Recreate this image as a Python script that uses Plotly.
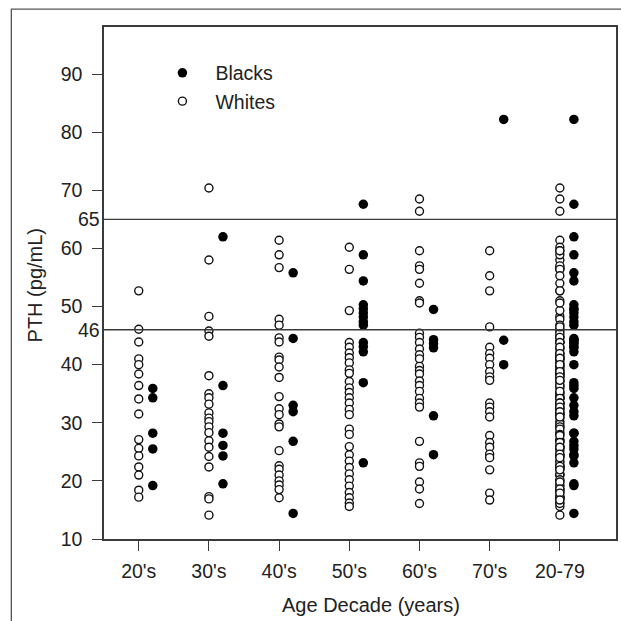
import plotly.graph_objects as go

# ---- data ----
categories = ["20's", "30's", "40's", "50's", "60's", "70's", "20-79"]

whites_20s = [52.7, 46.1, 43.9, 41.0, 40.0, 38.4, 36.4, 34.1, 31.5, 27.1, 25.6, 24.3, 22.4, 21.0, 18.4, 17.2]
whites_30s = [70.4, 58.0, 48.3, 45.8, 44.9, 38.1, 35.0, 34.3, 33.2, 31.7, 30.8, 30.2, 29.3, 28.3, 26.9, 25.8, 24.2, 22.4, 17.3, 16.9, 14.1]
whites_40s = [61.4, 58.9, 56.7, 47.8, 46.8, 44.6, 43.9, 41.3, 40.8, 39.6, 37.8, 34.5, 32.4, 31.4, 29.8, 29.3, 25.2, 22.6, 22.0, 21.0, 20.0, 19.3, 18.5, 17.1]
whites_50s = [60.2, 56.4, 49.3, 43.8, 43.0, 42.0, 41.2, 40.3, 39.1, 38.5, 37.1, 36.0, 35.2, 34.3, 33.4, 32.3, 31.4, 28.9, 28.0, 25.9, 24.5, 23.4, 22.3, 21.2, 20.2, 19.1, 18.0, 17.1, 16.2, 15.6]
whites_60s = [68.5, 66.4, 59.6, 57.0, 56.4, 54.0, 51.0, 50.6, 45.4, 44.7, 43.8, 42.7, 41.7, 41.0, 39.7, 39.0, 38.4, 37.2, 36.4, 35.4, 34.2, 33.4, 32.7, 26.8, 23.1, 22.5, 19.8, 18.6, 16.1]
whites_70s = [59.6, 55.3, 52.7, 46.5, 43.0, 41.9, 41.1, 40.0, 38.8, 37.9, 37.3, 33.4, 32.7, 31.9, 31.0, 27.8, 26.6, 25.8, 24.6, 24.0, 21.9, 17.9, 16.7]

blacks_20s = [35.9, 34.3, 28.2, 25.5, 19.2]
blacks_30s = [62.0, 36.4, 28.2, 26.1, 24.3, 19.5]
blacks_40s = [55.8, 44.5, 33.0, 31.9, 26.8, 14.4]
blacks_50s = [67.6, 58.9, 54.4, 50.3, 49.6, 48.9, 48.2, 47.4, 46.8, 43.8, 43.1, 42.2, 36.9, 23.1]
blacks_60s = [49.5, 44.3, 43.6, 42.9, 31.2, 24.5]
blacks_70s = [82.2, 44.2, 40.0]

reference_lines = [46, 65]
y_ticks = [10, 20, 30, 40, 50, 60, 70, 80, 90]

whites_by_decade = [whites_20s, whites_30s, whites_40s, whites_50s, whites_60s, whites_70s]
blacks_by_decade = [blacks_20s, blacks_30s, blacks_40s, blacks_50s, blacks_60s, blacks_70s]
# the "20-79" column pools all decades
whites_by_decade.append([v for g in whites_by_decade for v in g])
blacks_by_decade.append([v for g in blacks_by_decade for v in g])

BLACK_OFFSET = 0.2
wx, wy, bx, by = [], [], [], []
for i, (w, b) in enumerate(zip(whites_by_decade, blacks_by_decade)):
    wx += [i + 1] * len(w)
    wy += w
    bx += [i + 1 + BLACK_OFFSET] * len(b)
    by += b

FONT = "Liberation Sans, Arial, Helvetica, sans-serif"
TXT = "#222222"
LINE = "#3a3a3a"
TICK_SIZE = 19.5

fig = go.Figure()
fig.add_trace(go.Scatter(
    x=bx, y=by, mode="markers", name="Blacks",
    marker=dict(symbol="circle", size=9.5, color="black", line=dict(width=0)),
))
fig.add_trace(go.Scatter(
    x=wx, y=wy, mode="markers", name="Whites",
    marker=dict(symbol="circle", size=8, color="white", line=dict(width=1.4, color="#111111")),
))

for v in reference_lines:
    fig.add_shape(type="line", xref="paper", x0=0, x1=1, yref="y", y0=v, y1=v,
                  line=dict(color=LINE, width=1.4), layer="above")
    fig.add_annotation(xref="paper", x=0, yref="y", y=v, text=str(v), showarrow=False,
                       xanchor="right", yanchor="middle", xshift=-2,
                       font=dict(family=FONT, size=TICK_SIZE, color=TXT))

# outer frame of the original figure (left and top edges)
fig.add_shape(type="path", xref="paper", yref="paper",
              path="M -0.181 -0.3 L -0.181 1.035 L 1.2 1.035",
              line=dict(color="#555555", width=1.3))

fig.add_annotation(xref="paper", yref="paper", x=-0.134, y=0.496, text="PTH (pg/mL)",
                   textangle=-90, showarrow=False, xanchor="center", yanchor="middle",
                   font=dict(family=FONT, size=20, color=TXT))
fig.add_annotation(xref="paper", yref="paper", x=0.521, y=-0.129, text="Age Decade (years)",
                   showarrow=False, xanchor="center", yanchor="middle",
                   font=dict(family=FONT, size=20, color=TXT))

fig.update_xaxes(
    range=[0.505, 7.80], tickmode="array", tickvals=list(range(1, len(categories) + 1)),
    ticktext=categories, ticks="outside", ticklen=10, tickwidth=1.3, tickcolor=LINE,
    showline=True, linecolor=LINE, linewidth=1.5, mirror=True, showgrid=False, zeroline=False,
    tickfont=dict(family=FONT, size=TICK_SIZE, color=TXT), ticklabelstandoff=4,
)
fig.update_yaxes(
    range=[10, 98.1], tickmode="array", tickvals=y_ticks, ticks="outside", ticklen=10,
    tickwidth=1.3, tickcolor=LINE, showline=True, linecolor=LINE, linewidth=1.5, mirror=True,
    showgrid=False, zeroline=False, tickfont=dict(family=FONT, size=TICK_SIZE, color=TXT),
    ticklabelstandoff=6,
)

fig.update_layout(
    width=621, height=621,
    margin=dict(l=104, r=3, t=27, b=82),
    paper_bgcolor="white", plot_bgcolor="white",
    showlegend=True,
    legend=dict(x=0.0887, y=0.948, xanchor="left", yanchor="top", bgcolor="rgba(0,0,0,0)",
                borderwidth=0, itemwidth=56, font=dict(family=FONT, size=19.5, color=TXT)),
    font=dict(family=FONT, color=TXT),
)

fig.write_html("out.html")
